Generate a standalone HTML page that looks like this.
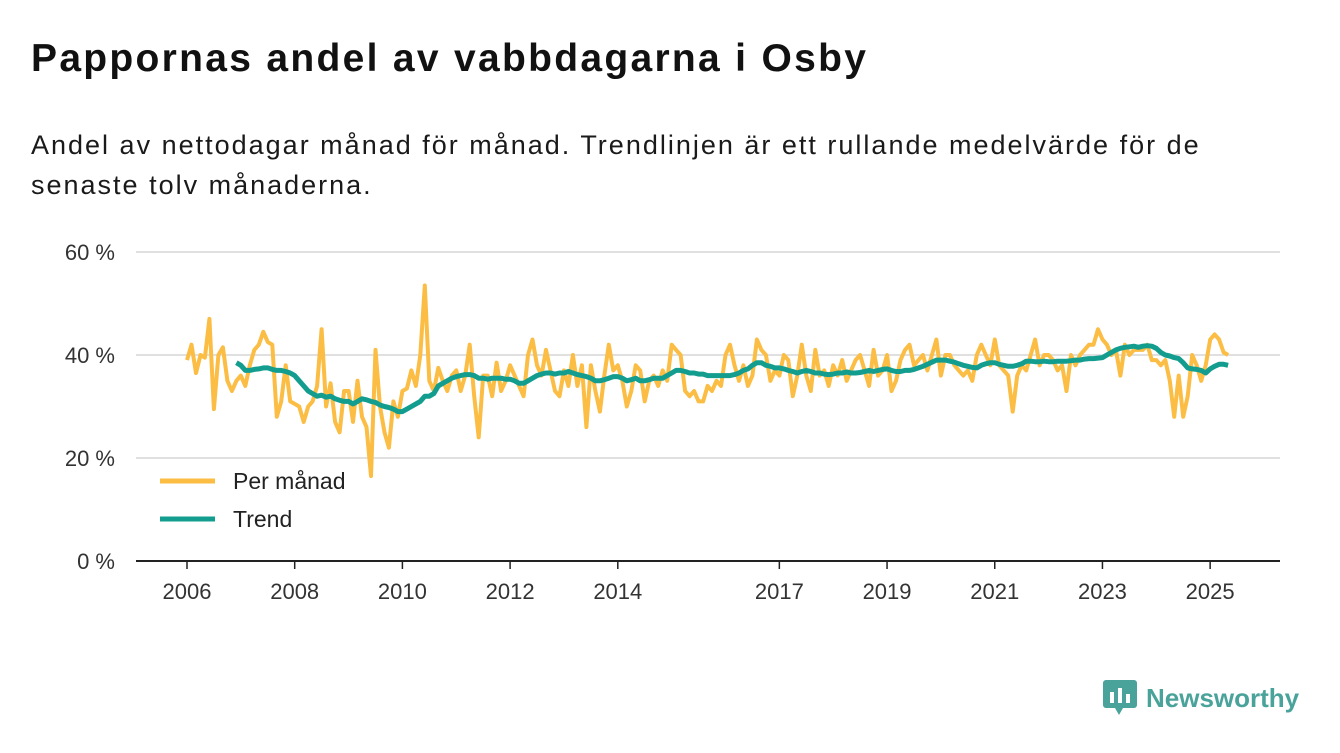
<!DOCTYPE html>
<html><head><meta charset="utf-8">
<style>
body{margin:0;width:1340px;height:753px;background:#fff;font-family:"Liberation Sans","DejaVu Sans",sans-serif;color:#111;overflow:hidden;position:relative}
h1{position:absolute;left:31px;top:37px;margin:0;font-size:39px;font-weight:bold;letter-spacing:2.3px}
.sub{position:absolute;left:31px;top:125px;margin:0;font-size:27px;line-height:40px;width:1235px;color:#1a1a1a;letter-spacing:2px}
svg text{font-family:"Liberation Sans","DejaVu Sans",sans-serif}
</style></head><body>
<h1>Pappornas andel av vabbdagarna i Osby</h1>
<p class="sub">Andel av nettodagar månad för månad. Trendlinjen är ett rullande medelvärde för de senaste tolv månaderna.</p>
<svg id="chart" width="1340" height="753" style="position:absolute;left:0;top:0"></svg>
<div style="position:absolute;left:1103px;top:680px;display:flex;align-items:center">
<svg width="34" height="36"><rect x="0" y="0" width="34" height="28" rx="3" fill="#4aa39a"/><polygon points="12,28 20,28 16,35" fill="#4aa39a"/><rect x="7" y="12" width="4" height="11" fill="#fff"/><rect x="15" y="8" width="4" height="15" fill="#fff"/><rect x="23" y="14" width="4" height="9" fill="#fff"/></svg>
<span style="margin-left:9px;font-size:26px;font-weight:bold;color:#4aa39a">Newsworthy</span></div>
<script>
const monthly = [
39,42,36.5,40,39.5,47,29.5,40,41.5,35,33,35,
36,34,38,41,42,44.5,42.5,42,28,31,38,31,
30.5,30,27,30,31,34,45,30,34.5,27,25,33,
33,27,35,28,26,16.5,41,30,25,22,31,28,
33,33.5,37,34,40,53.5,35,33,37.5,35,33,36,
37,33,36,42,32,24,36,36,32,38.5,33,35,
38,36,34,32,40,43,38,36,41,37,33,32,
37,34,40,34,38,26,38,33,29,36,42,37,
38,35,30,33,38,37,31,35,36,34,37,35,
42,41,40,33,32,33,31,31,34,33,35,34,
40,42,38,35,38,34,36,43,41,40,35,37,
36,40,39,32,36,42,36,33,41,36,37,34,
38,36,39,35,37,39,40,37,34,41,36,37,
40,33,35,39,41,42,38,39,40,37,40,43,
36,40,40,38,37,36,37,35,40,42,40,38,
43,38,37,36,29,36,38,37,40,43,38,40,
40,39,37,38,33,40,38,40,41,42,42,45,
43,42,40,41,36,42,40,41,41,41,42,39,
39,38,39,35,28,36,28,32,40,38,35,38,
43,44,43,40.5,40
];
const trendStart = 11;
const trend = [
38.5,
38,37,37,37.2,37.3,37.5,37.5,37.2,37,37,36.8,36.5,
36,35,34,33,32.5,32,32.2,31.8,32,31.5,31.2,31,
31,30.5,31,31.5,31.3,31,30.8,30.3,30,29.8,29.5,29,
29,29.5,30,30.5,31,32,32,32.5,34,34.5,35,35.5,
35.8,36,36.2,36.2,36,35.5,35.5,35.3,35.5,35.5,35.5,35.3,
35.3,35,34.5,34.5,35,35.5,36,36.3,36.5,36.5,36.3,36.5,
36.5,36.8,36.5,36.2,36,35.8,35.5,35,35,35.2,35.5,35.8,
35.8,35.5,35,35.2,35.5,35,35,35.2,35.5,35.5,35.5,36,
36.5,37,37,36.8,36.5,36.5,36.3,36.3,36,36,36,36,
36,36,36.2,36.5,37,37.3,38,38.5,38.5,38,37.8,37.5,
37.5,37.3,37,36.8,36.5,36.8,37,36.8,36.5,36.5,36.3,36.2,
36.3,36.5,36.5,36.7,36.5,36.5,36.6,36.8,37,36.8,37,37.2,
37.3,37,36.8,36.8,37,37,37.2,37.5,37.8,38.2,38.6,39,
39,39,38.8,38.6,38.3,38,37.8,37.6,37.5,38,38.3,38.5,
38.5,38.2,38,37.8,37.8,38,38.3,38.8,38.8,38.7,38.7,38.8,
38.7,38.7,38.8,38.8,38.8,38.9,39,39,39.2,39.3,39.3,39.4,
39.5,40,40.5,41,41.3,41.5,41.6,41.7,41.5,41.7,41.8,41.7,
41.3,40.5,40,39.8,39.5,39.3,38.5,37.5,37.3,37.2,37,36.5,
37.3,37.8,38.2,38.2,38
];
const yTicks = [0,20,40,60];
const yTickLabels = ["0 %","20 %","40 %","60 %"];
const xTicks = [2006,2008,2010,2012,2014,2017,2019,2021,2023,2025];

const svg = document.getElementById('chart');
const NS = 'http://www.w3.org/2000/svg';
const x0 = 187, perYear = 53.85, y0 = 561, perPct = 5.15;
function xYear(y){return x0 + (y-2006)*perYear;}
function xIdx(i){return xYear(2006 + i/12);}
function yVal(v){return y0 - v*perPct;}
function mk(tag, attrs){const e=document.createElementNS(NS,tag);for(const k in attrs)e.setAttribute(k,attrs[k]);svg.appendChild(e);return e;}

yTicks.forEach((t,i)=>{
  if(t>0){const g=mk('line',{x1:136,x2:1280,y1:yVal(t),y2:yVal(t),stroke:'#d6d6d6','stroke-width':1.5});
  
  }
  const tx=mk('text',{x:115,y:yVal(t)+8,'text-anchor':'end','font-size':22,fill:'#333'});
  tx.textContent=yTickLabels[i];
  
  
});
const ax=mk('line',{x1:136,x2:1280,y1:y0,y2:y0,stroke:'#222','stroke-width':2});


xTicks.forEach(t=>{
  const tk=mk('line',{x1:xYear(t),x2:xYear(t),y1:y0,y2:y0+8,stroke:'#222','stroke-width':1.5});
  
  
  const tx=mk('text',{x:xYear(t),y:599,'text-anchor':'middle','font-size':22,fill:'#333'});
  tx.textContent=t;
  
  
});
const mp=mk('path',{d:monthly.map((v,i)=>(i?'L':'M')+xIdx(i).toFixed(1)+','+yVal(v).toFixed(1)).join(''),fill:'none',stroke:'#fbbd43','stroke-width':4,'stroke-linejoin':'round'});


const tp=mk('path',{d:trend.map((v,i)=>(i?'L':'M')+xIdx(i+trendStart).toFixed(1)+','+yVal(v).toFixed(1)).join(''),fill:'none',stroke:'#139d8f','stroke-width':5,'stroke-linejoin':'round'});



[['#fbbd43','Per månad',481,'legend-entry-monthly'],['#139d8f','Trend',519,'legend-entry-trend']].forEach(l=>{
  const ln=mk('line',{x1:160,x2:215,y1:l[2],y2:l[2],stroke:l[0],'stroke-width':5});
  
  
  const tx=mk('text',{x:233,y:l[2]+8,'font-size':23,fill:'#222'});
  tx.textContent=l[1];
  
  
});
</script>
</body></html>
